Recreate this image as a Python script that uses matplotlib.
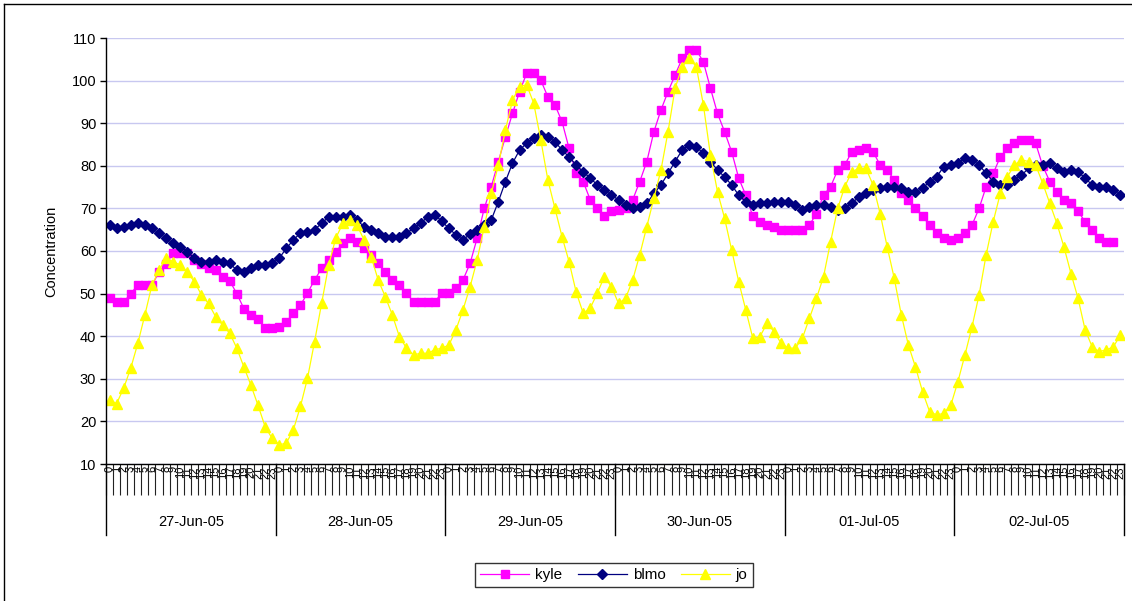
import numpy as np
import matplotlib
matplotlib.use("Agg")
import matplotlib.pyplot as plt
from matplotlib.lines import Line2D
import matplotlib.transforms as mtransforms

plt.rcParams["font.family"] = ["Liberation Sans", "DejaVu Sans"]

# Hourly readings, six days of 24 hours each
days = ["27-Jun-05", "28-Jun-05", "29-Jun-05", "30-Jun-05", "01-Jul-05", "02-Jul-05"]
hours = list(range(24))

kyle = [
    49, 48, 48, 50, 52, 52, 52, 55, 57, 59.5, 59.5, 59.5, 58, 57, 56, 55.5, 54, 53, 50, 46.5, 45, 44, 42, 42,
    42.2, 43.4, 45.4, 47.3, 50.1, 53.2, 55.9, 57.9, 59.8, 61.8, 63, 62.2, 60.6, 59.1, 57.1, 55.1, 53.2, 52, 50.1, 48.1, 48.1, 48.1, 48.1, 50.1,
    50.1, 51.2, 53.2, 57.1, 63, 70, 75.1, 81, 86.8, 92.3, 97.4, 101.7, 101.7, 100.1, 96.2, 94.3, 90.4, 84.1, 78.2, 76.3, 72, 70, 68.1, 69.3,
    69.6, 70, 72, 76.3, 81, 88, 93.1, 97.4, 101.3, 105.2, 107.2, 107.2, 104.4, 98.2, 92.3, 88, 83.3, 77.1, 73.1, 68.1, 66.9, 66.1, 65.7, 64.9,
    64.9, 64.9, 64.9, 66.1, 68.8, 73.1, 75.1, 79, 80.2, 83.3, 83.7, 84.1, 83.3, 80.2, 79, 76.7, 73.5, 72, 70, 68.1, 66.1, 64.2, 63, 62.6,
    63, 64.2, 66.1, 70, 75.1, 78.2, 82.1, 84.1, 85.3, 86.1, 86.1, 85.3, 80, 76.3, 73.9, 72, 71.2, 69.3, 66.9, 64.9, 63, 62.2, 62.2, np.nan,
]

blmo = [
    66.1, 65.3, 65.7, 66.1, 66.5, 66.1, 65.3, 64.2, 63, 61.8, 61, 59.8, 58.3, 57.5, 57.5, 57.9, 57.5, 57.1, 55.5, 55.1, 55.9, 56.7, 56.7, 57.1,
    58.3, 60.6, 62.6, 64.2, 64.5, 65, 66.5, 68, 68, 68, 68.5, 67.3, 65.7, 65, 64.2, 63.4, 63.4, 63.4, 64.2, 65.3, 66.5, 68, 68.5, 67,
    65.3, 63.8, 62.6, 64, 64.9, 66, 67.3, 71.6, 76.3, 80.6, 83.7, 85.3, 86.5, 87.2, 86.8, 85.7, 83.7, 82.1, 80.2, 78.6, 77.1, 75.5, 74.3, 73.1,
    72, 70.8, 70, 70.4, 71.2, 73.5, 75.5, 78.2, 81, 83.7, 84.9, 84.5, 82.9, 81, 79, 77.4, 75.5, 73.1, 71.6, 70.8, 71.2, 71.2, 71.4, 71.5,
    71.6, 70.8, 69.6, 70.4, 70.8, 70.8, 70.4, 69.6, 70, 71.2, 72.7, 73.5, 74.3, 74.7, 75.1, 75.1, 74.7, 73.9, 73.9, 74.7, 76.3, 77.4, 79.8, 80.2,
    80.6, 81.8, 81.4, 80.2, 78.2, 76.3, 75.5, 75.5, 76.7, 77.8, 79.4, 80.2, 80.2, 80.6, 79.4, 78.6, 79, 78.6, 77.1, 75.5, 75.1, 75.1, 74.3, 73.1,
]

jo = [
    25, 24.2, 27.8, 32.5, 38.3, 45, 52, 55.5, 58.3, 57.5, 56.7, 55.1, 52.8, 49.7, 47.7, 44.6, 42.6, 40.7, 37.2, 32.8, 28.5, 23.8, 18.8, 16,
    14.5, 14.9, 18, 23.5, 30.1, 38.7, 47.7, 56.7, 63, 66.5, 67.3, 66.1, 62.6, 58.7, 53.2, 49.3, 45, 39.9, 37.2, 35.6, 36, 36, 36.8, 37.2,
    37.9, 41.5, 46.2, 51.6, 57.9, 65.7, 73.5, 80.2, 88.4, 95.4, 98.6, 99, 94.7, 86.1, 76.7, 70, 63.4, 57.5, 50.4, 45.4, 46.6, 50.1, 54, 51.6,
    47.7, 48.9, 53.2, 59.1, 65.7, 72.4, 79, 88, 98.2, 103.3, 105.2, 103.3, 94.3, 82.5, 73.9, 67.7, 60.2, 52.8, 46.2, 39.5, 39.9, 43, 41.1, 38.3,
    37.2, 37.2, 39.5, 44.2, 48.9, 54, 62.2, 70, 75.1, 78.6, 79.4, 79.4, 75.5, 68.8, 61, 53.6, 45, 37.9, 32.8, 27, 22.3, 21.5, 21.9, 23.8,
    29.3, 35.6, 42.2, 49.7, 59.1, 66.9, 73.5, 77.4, 80.2, 81.4, 81, 80.2, 75.9, 71.2, 66.5, 61, 54.7, 48.9, 41.5, 37.5, 36.4, 36.8, 37.5, 40.3,
]

n = len(days) * len(hours)
x = np.arange(n)
hour_labels = [str(h) for _ in days for h in hours]

W, H = 1132, 601
fig = plt.figure(figsize=(W / 100, H / 100), dpi=100)
ax = fig.add_axes([106 / W, 1 - 464 / H, (1124 - 106) / W, (464 - 38) / H])

ax.set_ylim(10, 110)
ax.set_xlim(-0.5, n - 0.5)
ax.set_yticks(np.arange(10, 111, 10))
ax.yaxis.grid(True, color="#C8C8F0", linewidth=1.0)
ax.set_axisbelow(True)
for s in ("top", "right"):
    ax.spines[s].set_visible(False)
for s in ("left", "bottom"):
    ax.spines[s].set_color("black")
    ax.spines[s].set_linewidth(1.0)
ax.tick_params(axis="y", length=4, width=1, labelsize=10.5, pad=3, direction="out")

ax.set_xticks(x)
ax.set_xticklabels(hour_labels, rotation=90, fontsize=8)
ax.tick_params(axis="x", which="major", length=0, pad=1.5)
ax.set_xticks(np.arange(n + 1) - 0.5, minor=True)
ax.tick_params(axis="x", which="minor", length=22, width=0.8, color="#222222", direction="out")

ax.set_ylabel("Concentration", fontsize=10.5, labelpad=10)

lw = 0.9
ax.plot(x, kyle, color="#FF00FF", lw=lw, marker="s", markersize=5.5,
        markeredgecolor="#FF00FF", markerfacecolor="#FF00FF", label="kyle")
ax.plot(x, blmo, color="#000080", lw=lw, marker="D", markersize=5.5,
        markeredgecolor="#000080", markerfacecolor="#000080", label="blmo")
ax.plot(x, jo, color="#FFFF00", lw=lw, marker="^", markersize=7,
        markeredgecolor="#FFFF00", markerfacecolor="#FFFF00", label="jo")

# Day grouping row under the hour labels
trans = mtransforms.blended_transform_factory(ax.transData, ax.transAxes)
plot_h = 464 - 38
for k in range(len(days) + 1):
    xb = k * len(hours) - 0.5
    ax.plot([xb, xb], [0, -(535 - 464) / plot_h], transform=trans, color="black",
            lw=1.0, clip_on=False)
for k, d in enumerate(days):
    xc = k * len(hours) + (len(hours) - 1) / 2
    ax.text(xc, -(522 - 464) / plot_h, d, transform=trans, ha="center", va="center",
            fontsize=10.5)

leg = fig.legend(loc="center", bbox_to_anchor=(614 / W, 1 - 575 / H), ncol=3,
                 fontsize=11, frameon=True, fancybox=False, handlelength=3.2,
                 columnspacing=1.0, handletextpad=0.4, borderpad=0.35)
leg.get_frame().set_edgecolor("black")
leg.get_frame().set_linewidth(1.0)

# Outer chart frame
fig.add_artist(Line2D([4 / W, 4 / W], [0, 1 - 4 / H], transform=fig.transFigure,
                      color="black", lw=1.0))
fig.add_artist(Line2D([4 / W, 1], [1 - 4 / H, 1 - 4 / H], transform=fig.transFigure,
                      color="black", lw=1.0))

fig.savefig("out.png", dpi=100)
